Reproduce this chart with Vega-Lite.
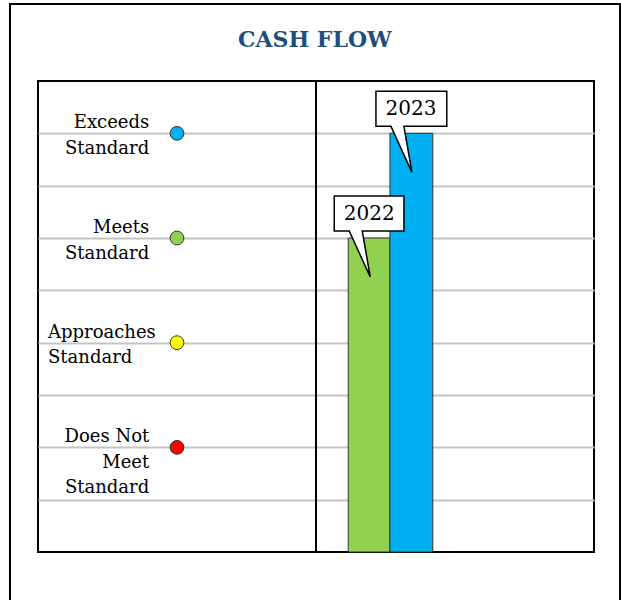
{
  "$schema": "https://vega.github.io/schema/vega-lite/v6.json",
  "width": 556,
  "height": 471,
  "autosize": {"type": "none"},
  "padding": {"left": 38, "top": 81, "right": 27, "bottom": 48},
  "background": "white",
  "config": {
    "view": {"stroke": "black", "strokeWidth": 2},
    "axis": {"labels": false, "ticks": false, "domain": false, "title": null}
  },
  "datasets": {
    "bars": [
      {"year": "2022", "x0": 5.58, "x1": 6.33, "v": 6},
      {"year": "2023", "x0": 6.33, "x1": 7.1, "v": 8}
    ],
    "levels": [
      {"level": "Exceeds Standard", "label": "Exceeds\nStandard", "v": 8},
      {"level": "Meets Standard", "label": "Meets\nStandard", "v": 6},
      {"level": "Approaches Standard", "label": "Approaches\nStandard", "v": 4},
      {"level": "Does Not Meet Standard", "label": "Does Not\nMeet\nStandard", "v": 2}
    ],
    "title": [{"title": "CASH FLOW"}]
  },
  "resolve": {"scale": {"color": "independent", "fill": "independent"}},
  "layer": [
    {
      "data": {"name": "bars"},
      "mark": {"type": "rect", "fill": null, "stroke": "black", "strokeWidth": 2, "clip": false},
      "encoding": {
        "x": {"datum": -0.504, "type": "quantitative", "scale": {"domain": [0, 10], "nice": false, "zero": false}, "axis": null},
        "x2": {"datum": 10.47},
        "y": {"datum": -1.5, "type": "quantitative", "scale": {"domain": [0, 9], "nice": false, "zero": false}, "axis": {"values": [1, 2, 3, 4, 5, 6, 7, 8], "grid": true, "gridColor": "#c4c4c4", "gridWidth": 2, "gridOpacity": 1}},
        "y2": {"datum": 10.47}
      }
    },
    {
      "data": {"name": "title"},
      "mark": {"type": "text", "align": "center", "baseline": "middle", "font": "DejaVu Serif", "fontSize": 22, "fontWeight": "bold", "color": "#1f4e79"},
      "encoding": {
        "x": {"datum": 4.98, "type": "quantitative", "scale": {"domain": [0, 10], "nice": false, "zero": false}, "axis": null},
        "y": {"datum": 9.79, "type": "quantitative", "scale": {"domain": [0, 9], "nice": false, "zero": false}},
        "text": {"field": "title"}
      }
    },
    {
      "data": {"name": "bars"},
      "mark": {"type": "rule", "stroke": "black", "strokeWidth": 2},
      "encoding": {
        "x": {"datum": 5, "type": "quantitative", "scale": {"domain": [0, 10], "nice": false, "zero": false}, "axis": null},
        "y": {"datum": 0, "type": "quantitative", "scale": {"domain": [0, 9], "nice": false, "zero": false}},
        "y2": {"datum": 9}
      }
    },
    {
      "data": {"name": "bars"},
      "mark": {"type": "rect", "stroke": "#333333", "strokeWidth": 1},
      "encoding": {
        "x": {"field": "x0", "type": "quantitative", "scale": {"domain": [0, 10], "nice": false, "zero": false}, "axis": null},
        "x2": {"field": "x1"},
        "y": {"field": "v", "type": "quantitative", "scale": {"domain": [0, 9], "nice": false, "zero": false}},
        "y2": {"datum": 0},
        "color": {"field": "year", "type": "nominal", "scale": {"domain": ["2022", "2023"], "range": ["#92d050", "#00b0f0"]}, "legend": null}
      }
    },
    {
      "data": {"name": "levels"},
      "mark": {"type": "point", "filled": true, "size": 190, "stroke": "#333333", "strokeWidth": 1, "opacity": 1},
      "encoding": {
        "x": {"datum": 2.5, "type": "quantitative", "scale": {"domain": [0, 10], "nice": false, "zero": false}, "axis": null},
        "y": {"field": "v", "type": "quantitative", "scale": {"domain": [0, 9], "nice": false, "zero": false}},
        "fill": {"field": "level", "type": "nominal", "scale": {"domain": ["Exceeds Standard", "Meets Standard", "Approaches Standard", "Does Not Meet Standard"], "range": ["#00b0f0", "#92d050", "#ffff00", "#ff0000"]}, "legend": null}
      }
    },
    {
      "data": {"name": "levels"},
      "transform": [{"filter": "datum.level !== 'Approaches Standard'"}],
      "mark": {"type": "text", "align": "right", "baseline": "alphabetic", "dy": -5, "lineBreak": "\n", "lineHeight": 25.5, "font": "DejaVu Serif", "fontSize": 18, "color": "black"},
      "encoding": {
        "x": {"datum": 2.0, "type": "quantitative", "scale": {"domain": [0, 10], "nice": false, "zero": false}, "axis": null},
        "y": {"field": "v", "type": "quantitative", "scale": {"domain": [0, 9], "nice": false, "zero": false}},
        "text": {"field": "label"}
      }
    },
    {
      "data": {"name": "levels"},
      "transform": [{"filter": "datum.level === 'Approaches Standard'"}],
      "mark": {"type": "text", "align": "left", "baseline": "alphabetic", "dy": -5, "lineBreak": "\n", "lineHeight": 25.5, "font": "DejaVu Serif", "fontSize": 18, "color": "black"},
      "encoding": {
        "x": {"datum": 0.18, "type": "quantitative", "scale": {"domain": [0, 10], "nice": false, "zero": false}, "axis": null},
        "y": {"field": "v", "type": "quantitative", "scale": {"domain": [0, 9], "nice": false, "zero": false}},
        "text": {"field": "label"}
      }
    },
    {
      "data": {"name": "bars"},
      "mark": {"type": "rect", "fill": "white", "stroke": "black", "strokeWidth": 1.5, "xOffset": -14, "x2Offset": 14, "yOffset": -42, "y2Offset": -7},
      "encoding": {
        "x": {"field": "x0", "type": "quantitative", "scale": {"domain": [0, 10], "nice": false, "zero": false}, "axis": null},
        "x2": {"field": "x1"},
        "y": {"field": "v", "type": "quantitative", "scale": {"domain": [0, 9], "nice": false, "zero": false}},
        "y2": {"field": "v"}
      }
    },
    {
      "data": {"name": "bars"},
      "mark": {"type": "point", "shape": "M 1.7 -8.5 L 1.7 -7 L 22 39 L 13.3 -7 L 13.3 -8.5 Z", "size": 4, "filled": true, "fill": "white", "strokeWidth": 0, "opacity": 1},
      "encoding": {
        "x": {"field": "x0", "type": "quantitative", "scale": {"domain": [0, 10], "nice": false, "zero": false}, "axis": null},
        "y": {"field": "v", "type": "quantitative", "scale": {"domain": [0, 9], "nice": false, "zero": false}}
      }
    },
    {
      "data": {"name": "bars"},
      "mark": {"type": "point", "shape": "M 1 -7 L 22 39 L 14 -7", "size": 4, "filled": false, "fill": null, "stroke": "black", "strokeWidth": 1.5, "opacity": 1},
      "encoding": {
        "x": {"field": "x0", "type": "quantitative", "scale": {"domain": [0, 10], "nice": false, "zero": false}, "axis": null},
        "y": {"field": "v", "type": "quantitative", "scale": {"domain": [0, 9], "nice": false, "zero": false}}
      }
    },
    {
      "data": {"name": "bars"},
      "mark": {"type": "text", "align": "center", "baseline": "middle", "dx": 21, "dy": -24.5, "font": "DejaVu Serif", "fontSize": 20, "color": "black"},
      "encoding": {
        "x": {"field": "x0", "type": "quantitative", "scale": {"domain": [0, 10], "nice": false, "zero": false}, "axis": null},
        "y": {"field": "v", "type": "quantitative", "scale": {"domain": [0, 9], "nice": false, "zero": false}},
        "text": {"field": "year"}
      }
    }
  ]
}
